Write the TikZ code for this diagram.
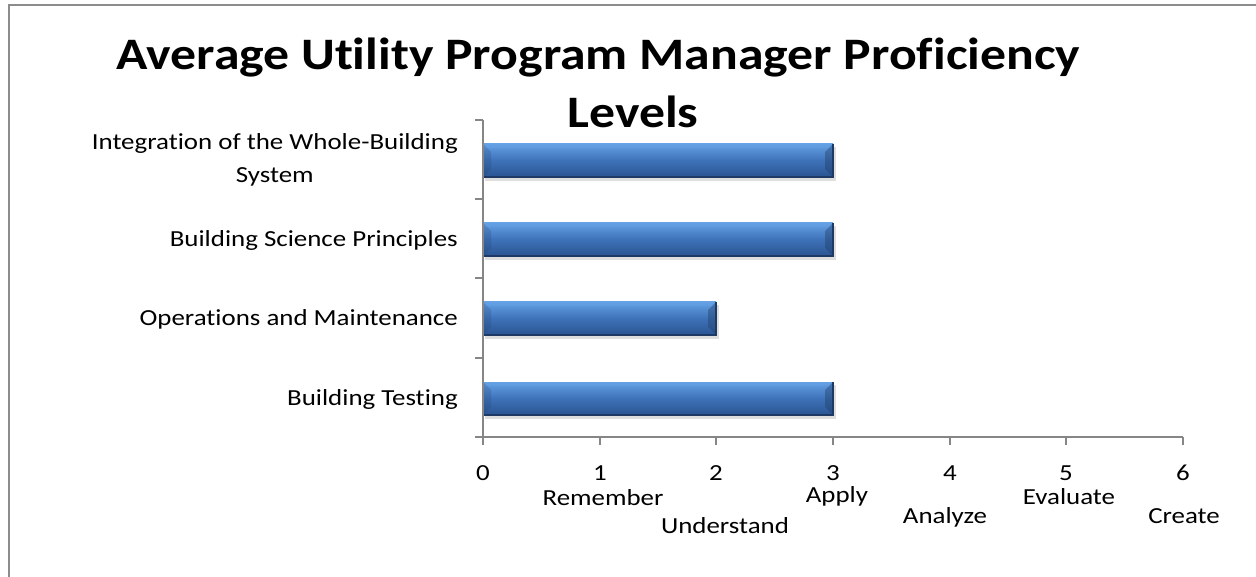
\documentclass[tikz,border=0pt]{standalone}
\usepackage{fontspec}
\usepackage{graphicx}
\setmainfont{Carlito}[Ligatures=NoCommon]
\definecolor{axisgray}{RGB}{134,134,134}
\definecolor{framegray}{RGB}{140,140,140}
\definecolor{barTop}{RGB}{100,160,228}
\definecolor{barMid}{RGB}{62,114,184}
\definecolor{barBot}{RGB}{42,84,146}
\definecolor{barEdge}{RGB}{30,58,100}
\definecolor{shadowc}{RGB}{200,200,200}
\newcommand{\hs}[1]{\scalebox{1.17}[1]{#1}}
\newcommand{\ths}[1]{\scalebox{1.15}[1]{#1}}
\newcommand{\bevbar}[2]{%
  \fill[shadowc,opacity=0.6] (485,#1+3) rectangle (#2+3,#1+37);
  \shade[top color=barTop,bottom color=barBot,middle color=barMid] (483,#1) rectangle (#2,#1+33);
  \fill[barTop,opacity=0.5] (483,#1) rectangle (#2,#1+4);
  \fill[barEdge,opacity=0.4] (#2-8,#1+8) -- (#2,#1) -- (#2,#1+33) -- (#2-8,#1+25) -- cycle;
  \fill[barEdge,opacity=0.2] (491,#1+8) -- (483,#1) -- (483,#1+33) -- (491,#1+25) -- cycle;
  \draw[barEdge,line width=1.2] (483,#1+33) -- (#2,#1+33) -- (#2,#1);
}
\tikzset{
  axisline/.style={axisgray,line width=1.6},
  catlabel/.style={inner sep=0pt,anchor=base east,font=\fontsize{23}{33}\selectfont},
  ticklabel/.style={inner sep=0pt,anchor=base,font=\fontsize{23}{28}\selectfont},
  titlelabel/.style={inner sep=0pt,anchor=base,font=\fontsize{45}{52}\selectfont\bfseries}
}
\begin{document}
\begin{tikzpicture}[x=1pt,y=-1pt]
\useasboundingbox (0,0) rectangle (1256,577);
\fill[white] (0,0) rectangle (1256,577);
% frame
\draw[framegray,line width=2] (9,580) -- (9,5) -- (1260,5);
% title
\node[titlelabel] (title1) at (598.5,70) {\ths{Average Utility Program Manager Proficiency}};
\node[titlelabel] (title2) at (633,128) {\ths{Levels}};
% bars
\bevbar{144}{833}
\bevbar{223}{833}
\bevbar{302}{716}
\bevbar{382}{833}
% axes
\draw[axisline] (483,120) -- (483,437);
\foreach \yy in {120,199,278,358,437} \draw[axisline] (475,\yy) -- (483,\yy);
\draw[axisline] (475,437) -- (1183,437);
\foreach \xx in {483,600,716,833,950,1066,1183} \draw[axisline] (\xx,437) -- (\xx,445);
% category labels
\node[catlabel] (c1) at (458,183) {\hs{\begin{tabular}[b]{@{}c@{}}Integration of the Whole-Building\\System\end{tabular}}};
\node[catlabel] (c2) at (458,247) {\hs{Building Science Principles}};
\node[catlabel] (c3) at (458,326) {\hs{Operations and Maintenance}};
\node[catlabel] (c4) at (458,405) {\hs{Building Testing}};
% tick labels
\node[ticklabel] (t0) at (483,480) {\hs{0}};
\node[ticklabel] (t1) at (600,480) {\hs{1}};
\node[ticklabel] (t2) at (716,480) {\hs{2}};
\node[ticklabel] (t3) at (833,480) {\hs{3}};
\node[ticklabel] (t4) at (950,480) {\hs{4}};
\node[ticklabel] (t5) at (1066,480) {\hs{5}};
\node[ticklabel] (t6) at (1183,480) {\hs{6}};
\node[ticklabel] (l1) at (603,505) {\hs{Remember}};
\node[ticklabel] (l2) at (725,533) {\hs{Understand}};
\node[ticklabel] (l3) at (837,502) {\hs{Apply}};
\node[ticklabel] (l4) at (945,523) {\hs{Analyze}};
\node[ticklabel] (l5) at (1069,504) {\hs{Evaluate}};
\node[ticklabel] (l6) at (1184,523) {\hs{Create}};
\end{tikzpicture}
\end{document}
